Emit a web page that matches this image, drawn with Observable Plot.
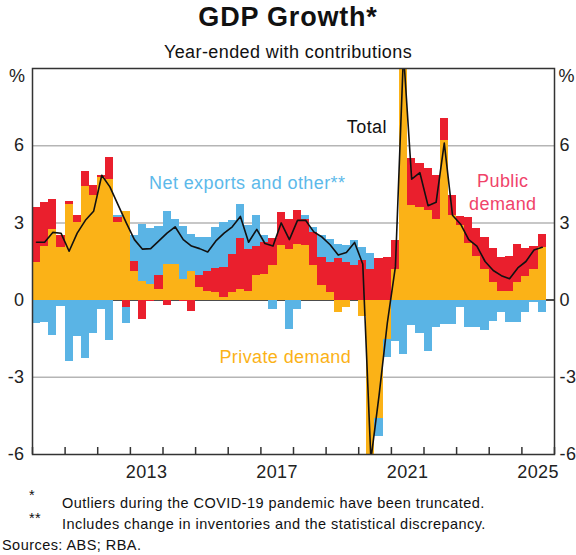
<!DOCTYPE html>
<html><head><meta charset="utf-8">
<script src="https://cdn.jsdelivr.net/npm/d3@7"></script>
<script src="https://cdn.jsdelivr.net/npm/@observablehq/plot@0.6"></script>
<style>
body{margin:0;background:#fff;font-family:Arial,"Liberation Sans",sans-serif;}
#wrap{position:relative;width:576px;height:555px;overflow:hidden;background:#fff}
#wrap svg{position:absolute;left:0;top:0}
#wrap svg text{letter-spacing:0.4px}
.t{position:absolute;white-space:nowrap;color:#111;z-index:2}
.fn{font-size:14.5px;line-height:16px;letter-spacing:0.45px}
</style></head><body>
<div id="wrap">
<div class="t" style="left:0;width:576px;text-align:center;top:3px;font-size:27px;line-height:28px;font-weight:bold;letter-spacing:0.8px">GDP Growth*</div>
<div class="t" style="left:0;width:576px;text-align:center;top:42px;font-size:18px;line-height:20px;letter-spacing:0.4px">Year-ended with contributions</div>
<div class="t fn" style="left:29px;top:487px">*</div>
<div class="t fn" style="left:62px;top:495px">Outliers during the COVID-19 pandemic have been truncated.</div>
<div class="t fn" style="left:29px;top:510px">**</div>
<div class="t fn" style="left:62px;top:516px">Includes change in inventories and the statistical discrepancy.</div>
<div class="t fn" style="left:2px;top:537px">Sources: ABS; RBA.</div>
</div>
<script>
// Quarterly, 2010 Q1 to 2025 Q3 (percentage points / per cent)
const firstYear = 2010;
const privateDemand = [1.45,2.1,2.75,2.05,3.7,3.0,4.4,4.05,4.75,4.7,3.0,3.45,
  1.1,0.74,0.6,0.42,1.39,1.39,0.81,1.13,0.48,0.35,0.29,0.09,
  0.29,0.4,0.35,0.94,1.0,1.35,2.13,1.98,2.17,2.13,1.33,0.55,
  0.3,-0.5,-0.3,0,-0.62,-8.0,-4.6,-1.54,1.2,10.2,3.67,3.6,
  3.5,3.15,6.2,3.28,2.9,2.2,1.7,1.2,0.7,0.35,0.35,0.7,0.9,1.2,2.05];
const publicDemand = [2.15,1.7,1.15,0.45,0.12,0.28,0.6,0.42,0.1,0.85,0.2,-0.3,
  0.4,-0.75,-0.05,0.52,-0.2,0,-0.05,-0.43,0.46,0.78,0.94,1.17,
  1.5,2.0,1.6,1.16,1.24,1.05,1.26,1.17,1.31,1.02,1.3,1.1,
  1.16,1.6,1.46,1.33,1.52,1.2,1.6,1.65,1.1,1.5,1.82,1.7,
  1.6,1.7,0.85,0.78,0.35,1.0,1.1,1.25,1.3,1.3,1.35,1.45,1.1,0.9,0.5];
const netExportsOther = [-0.89,-0.86,-1.38,-0.23,-2.38,-1.4,-2.25,-1.28,-0.36,-1.56,0.08,-0.6,
  1.0,2.18,2.2,1.92,2.05,1.76,2.05,1.43,1.49,1.3,1.6,1.76,
  1.3,1.3,0.95,1.18,0.26,-0.36,0,-1.15,-0.36,0.13,0.2,0.85,
  0.91,0.57,0.65,0.97,0.52,0.6,-0.7,-0.7,-1.6,-2.1,-1.0,-1.3,
  -2.0,-1.05,-0.95,-0.95,-0.3,-1.08,-1.08,-1.2,-0.82,-0.5,-0.88,-0.88,-0.5,-0.1,-0.5];
const totalGrowth = [2.25,2.25,2.63,2.6,1.9,2.6,3.1,3.45,4.85,4.4,3.7,3.0,
  2.35,1.98,2.0,2.3,2.6,2.85,2.35,2.1,2.0,1.87,2.3,2.6,
  2.85,3.25,2.25,2.75,2.2,2.1,3.0,2.35,3.1,3.1,2.65,2.45,
  2.15,1.75,1.85,2.24,1.4,-6.2,-3.7,-0.9,1.3,9.6,4.7,4.95,
  3.67,3.8,6.1,3.3,2.95,2.35,2.1,1.5,1.15,0.95,0.83,1.25,1.5,1.95,2.05];
const seriesNames = ["Private demand","Public demand","Net exports and other"];
const seriesColors = ["#fbb217","#ea1f2d","#5ab4e5"];
const yTicks = [-6,-3,0,3,6];
const gridValues = [-3,3,6];
const yearLabels = [2013,2017,2021,2025];

const qStart = i => new Date(Date.UTC(firstYear + Math.floor(i/4), (i%4)*3, 1));
const qEnd = i => qStart(i+1);
const qMid = i => new Date((+qStart(i) + +qEnd(i))/2);

const seriesValues = [privateDemand, publicDemand, netExportsOther];
const bars = [];
seriesValues.forEach((arr, s) => arr.forEach((v, i) => bars.push({i, s: seriesNames[s], v})));
const line = totalGrowth.map((v, i) => ({i, v}));
const yearTicks = d3.range(firstYear, firstYear + 17).map(y => new Date(Date.UTC(y,0,1)));
const yearLabelDates = yearLabels.map(y => new Date(Date.UTC(y,6,1)));
const font = "Arial, 'Liberation Sans', sans-serif";

const chart = Plot.plot({
  width: 576, height: 555,
  marginTop: 68, marginBottom: 101, marginLeft: 32, marginRight: 22,
  style: {fontFamily: font, background: "transparent", color: "#222"},
  x: {type: "utc", domain: [new Date(Date.UTC(firstYear,0,1)), new Date(Date.UTC(2026,0,1))], axis: null},
  y: {domain: [-6, 9], axis: null},
  color: {domain: seriesNames, range: seriesColors},
  marks: [
    Plot.ruleY(gridValues, {stroke: "#b5b5b5", strokeWidth: 1.5}),
    Plot.ruleY([0], {stroke: "#111", strokeWidth: 1.5}),
    Plot.rectY(bars, {x1: d => qStart(d.i), x2: d => qEnd(d.i), y: "v", fill: "s", z: "s", clip: true, shapeRendering: "crispEdges"}),
    Plot.line(line, {x: d => qMid(d.i), y: "v", stroke: "#111", strokeWidth: 1.6, clip: true}),
    Plot.text(["Total"], {x: new Date(Date.UTC(2020,3,1)), y: 6.7, fontSize: 18, fill: "#111"}),
    Plot.text(["Net exports and other**"], {x: new Date(Date.UTC(2016,7,1)), y: 4.55, fontSize: 18, fill: "#5cb9ea"}),
    Plot.text(["Public\ndemand"], {x: new Date(Date.UTC(2024,5,1)), y: 4.23, fontSize: 18, lineHeight: 1.3, fill: "#f0436a"}),
    Plot.text(["Private demand"], {x: new Date(Date.UTC(2017,9,1)), y: -2.23, fontSize: 18, fill: "#fbb217"}),
    Plot.ruleX(yearTicks, {x: d => d, insetTop: 379, stroke: "#333", strokeWidth: 1.5}),
    Plot.frame({stroke: "#333", strokeWidth: 1.5}),
    Plot.axisY(yTicks, {anchor: "left", tickSize: 0, tickPadding: 8, fontSize: 18, tickFormat: d => String(d), label: null}),
    Plot.axisY(yTicks, {anchor: "right", tickSize: 0, tickPadding: 5, fontSize: 18, tickFormat: d => String(d), label: null}),
    Plot.text(["%"], {frameAnchor: "top-left", dx: -7, dy: 8, lineAnchor: "middle", textAnchor: "end", fontSize: 18}),
    Plot.text(["%"], {frameAnchor: "top-right", dx: 4, dy: 8, lineAnchor: "middle", textAnchor: "start", fontSize: 18}),
    Plot.axisX(yearLabelDates, {tickSize: 0, tickPadding: 11, fontSize: 18, tickFormat: d => String(d.getUTCFullYear()), label: null})
  ]
});
document.getElementById("wrap").prepend(chart);
</script>
</body></html>
